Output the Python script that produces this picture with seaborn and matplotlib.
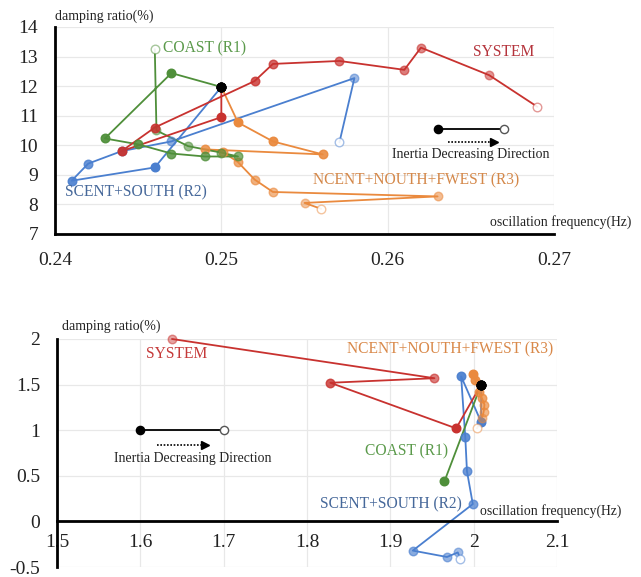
import matplotlib
matplotlib.use("Agg")
import matplotlib.pyplot as plt
import matplotlib.colors as mcolors
import pandas as pd
import seaborn as sns

# ---- upper chart: inter-area mode (~0.25 Hz) ----
# every path starts at the common base case (black dot)
sys_lo_x = [0.2500, 0.2500, 0.2440, 0.2460, 0.2520, 0.2531, 0.2571, 0.2610, 0.2620, 0.2661, 0.2690]
sys_lo_y = [11.97, 10.95, 9.80, 10.60, 12.17, 12.75, 12.85, 12.55, 13.30, 12.37, 11.30]

coast_lo_x = [0.2500, 0.2470, 0.2430, 0.2450, 0.2470, 0.2490, 0.2510, 0.2500, 0.2480, 0.2461, 0.2460]
coast_lo_y = [11.97, 12.44, 10.23, 10.03, 9.72, 9.62, 9.62, 9.75, 9.97, 10.50, 13.25]

scent_lo_x = [0.2500, 0.2460, 0.2410, 0.2420, 0.2440, 0.2470, 0.2580, 0.2571]
scent_lo_y = [11.97, 9.25, 8.80, 9.38, 9.80, 10.13, 12.27, 10.10]

ncent_lo_x = [0.2500, 0.2510, 0.2531, 0.2561, 0.2490, 0.2501, 0.2510, 0.2520, 0.2531, 0.2630, 0.2550, 0.2560]
ncent_lo_y = [11.97, 10.77, 10.13, 9.69, 9.86, 9.77, 9.43, 8.84, 8.42, 8.27, 8.05, 7.85]

# ---- lower chart: local mode (~2 Hz) ----
sys_hi_x = [2.009, 1.979, 1.828, 1.953, 1.638]
sys_hi_y = [1.50, 1.02, 1.52, 1.57, 2.00]

coast_hi_x = [2.009, 1.965]
coast_hi_y = [1.50, 0.44]

scent_hi_x = [2.009, 2.009, 1.985, 1.990, 1.992, 1.999, 1.927, 1.968, 1.981, 1.984]
scent_hi_y = [1.50, 1.09, 1.59, 0.92, 0.55, 0.19, -0.32, -0.39, -0.34, -0.41]

ncent_hi_x = [2.009, 1.999, 2.002, 2.006, 2.010, 2.013, 2.012, 2.010, 2.004]
ncent_hi_y = [1.50, 1.62, 1.55, 1.42, 1.35, 1.28, 1.20, 1.13, 1.02]

x_ticks_lo = [0.24, 0.25, 0.26, 0.27]
y_ticks_lo = [7, 8, 9, 10, 11, 12, 13, 14]
x_ticks_hi = [1.5, 1.6, 1.7, 1.8, 1.9, 2.0, 2.1]
y_ticks_hi = [-0.5, 0, 0.5, 1, 1.5, 2]

RED = "#c8322f"
GREEN = "#4f8f3a"
BLUE = "#4a7fcf"
ORANGE = "#ea8a3e"

sns.set_theme(style="white")
plt.rcParams["font.family"] = ["Liberation Serif", "DejaVu Serif"]

fig = plt.figure(figsize=(6.41, 5.77), dpi=100)
ax1 = fig.add_axes([0.0858, 0.5945, 0.7785, 0.3588])
ax2 = fig.add_axes([0.0889, 0.0173, 0.7800, 0.3952])


def draw_path(ax, xs, ys, color, open_end=True, ms=38):
    df = pd.DataFrame({"f": xs, "d": ys})
    sns.lineplot(data=df, x="f", y="d", sort=False, estimator=None, color=color,
                 lw=1.3, ax=ax, zorder=2, clip_on=False)
    n = len(xs)
    for i in range(1, n):
        a = 1.0 - 0.55 * (i - 1) / max(n - 2, 1)
        if i == n - 1 and open_end:
            face = (1, 1, 1, 0.9)
        else:
            face = mcolors.to_rgba(color, a)
        ax.scatter(xs[i], ys[i], s=ms, facecolor=face, clip_on=False,
                   edgecolor=mcolors.to_rgba(color, max(a, 0.5)), lw=1.0, zorder=3)
    ax.scatter(xs[0], ys[0], s=ms, color="black", zorder=5, clip_on=False)


def style_axes(ax, xt, yt, xfmt):
    ax.set_xticks(xt)
    ax.set_xticklabels([xfmt(v) for v in xt])
    ax.set_yticks(yt)
    ax.set_yticklabels([("%g" % v) for v in yt])
    ax.grid(True, color="#e8e8e8", lw=0.9)
    ax.set_axisbelow(True)
    ax.set_xlabel("")
    ax.set_ylabel("")
    ax.tick_params(length=0, labelsize=14, labelcolor="#222222")
    for s in ("top", "right"):
        ax.spines[s].set_visible(False)
    for s in ("left", "bottom"):
        ax.spines[s].set_color("black")
        ax.spines[s].set_linewidth(2.0)


def key(ax, x0, x1, y, ya, xa0, xa1, xt, yt):
    ax.plot([x0, x1], [y, y], color="black", lw=1.3, zorder=4)
    ax.scatter([x0], [y], s=35, color="black", zorder=5)
    ax.scatter([x1], [y], s=35, facecolor="white", edgecolor="#555555", zorder=5)
    ax.plot([xa0, xa1], [ya, ya], color="black", lw=1.2, ls=(0, (1, 1)), zorder=4)
    ax.plot([xa1], [ya], marker=">", ms=6, color="black", zorder=4)
    ax.text(xt, yt, "Inertia Decreasing Direction", ha="center", va="center",
            fontsize=9.9, color="#222222")


LBL = 11.2

# ---------- upper ----------
draw_path(ax1, scent_lo_x, scent_lo_y, BLUE)
draw_path(ax1, ncent_lo_x, ncent_lo_y, ORANGE)
draw_path(ax1, coast_lo_x, coast_lo_y, GREEN)
draw_path(ax1, sys_lo_x, sys_lo_y, RED)
ax1.set_xlim(0.24, 0.27)
ax1.set_ylim(7, 14)
style_axes(ax1, x_ticks_lo, y_ticks_lo, lambda v: "%.2f" % v)
ax1.tick_params(axis="x", pad=13)
ax1.tick_params(axis="y", pad=12)

ax1.text(0.2465, 13.27, "COAST (R1)", color="#5b9a4b", fontsize=LBL, va="center")
ax1.text(0.2670, 13.16, "SYSTEM", color="#b5343c", fontsize=LBL, va="center", ha="center")
ax1.text(0.2406, 8.39, "SCENT+SOUTH (R2)", color="#46689a", fontsize=LBL, va="center")
ax1.text(0.2555, 8.80, "NCENT+NOUTH+FWEST (R3)", color="#d4884a", fontsize=LBL, va="center")
key(ax1, 0.2630, 0.2670, 10.55, 10.10, 0.2636, 0.2664, 0.2650, 9.69)
ax1.text(0.0, 1.053, "damping ratio(%)", transform=ax1.transAxes, fontsize=10,
         ha="left", va="center", color="#222222")
ax1.text(0.872, 0.058, "oscillation frequency(Hz)", transform=ax1.transAxes, fontsize=9.9,
         ha="left", va="center", color="#222222", clip_on=False)

# ---------- lower ----------
draw_path(ax2, scent_hi_x, scent_hi_y, BLUE)
draw_path(ax2, coast_hi_x, coast_hi_y, GREEN, open_end=False)
draw_path(ax2, sys_hi_x, sys_hi_y, RED, open_end=False)
draw_path(ax2, ncent_hi_x, ncent_hi_y, ORANGE)
ax2.set_xlim(1.5, 2.1)
ax2.set_ylim(-0.5, 2)
style_axes(ax2, x_ticks_hi, y_ticks_hi, lambda v: "%g" % v)
ax2.spines["bottom"].set_position(("data", 0))
ax2.tick_params(axis="x", pad=9)
ax2.tick_params(axis="y", pad=12)

ax2.text(1.643, 1.836, "SYSTEM", color="#c53a3a", fontsize=LBL, va="center", ha="center")
ax2.text(1.848, 1.89, "NCENT+NOUTH+FWEST (R3)", color="#d9894a", fontsize=LBL, va="center")
ax2.text(1.969, 0.765, "COAST (R1)", color="#5b9a4b", fontsize=LBL, va="center", ha="right")
ax2.text(1.986, 0.186, "SCENT+SOUTH (R2)", color="#46689a", fontsize=LBL, va="center", ha="right")
key(ax2, 1.60, 1.70, 1.0, 0.84, 1.62, 1.678, 1.663, 0.69)
ax2.text(0.01, 1.057, "damping ratio(%)", transform=ax2.transAxes, fontsize=10,
         ha="left", va="center", color="#222222")
ax2.text(2.008, 0.11, "oscillation frequency(Hz)", fontsize=9.9, ha="left", va="center",
         color="#222222", clip_on=False)

fig.savefig("out.png", dpi=100)
